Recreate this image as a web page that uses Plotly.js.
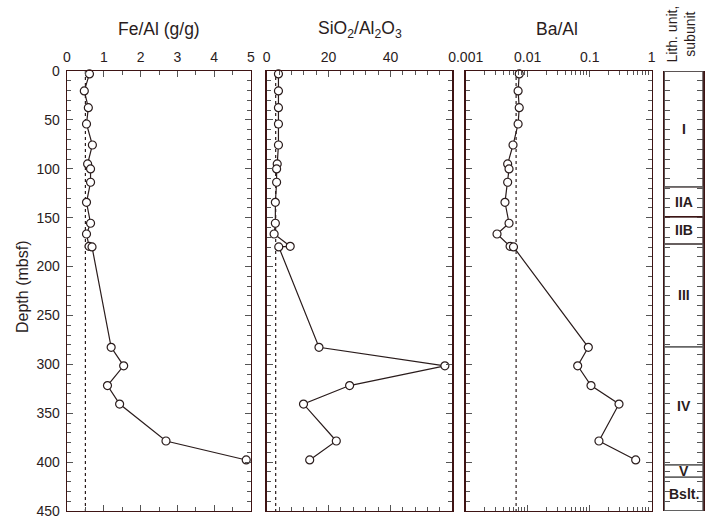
<!DOCTYPE html>
<html>
<head>
<meta charset="utf-8">
<script src="https://cdn.plot.ly/plotly-3.0.1.min.js"></script>
<style>html,body{margin:0;padding:0;background:#fff;}#chart{width:722px;height:530px;}</style>
</head>
<body>
<div id="chart"></div>
<script>
// ---- Data ----
var depth = [3, 20.4, 37.5, 54.2, 75.7, 95, 100.2, 113.8, 134.3, 155.7, 166.7, 179.3, 179.9, 282.6, 301.5, 321.7, 340.6, 378.4, 397.8];
var feAl  = [0.61, 0.47, 0.58, 0.53, 0.69, 0.56, 0.64, 0.64, 0.53, 0.64, 0.53, 0.60, 0.68, 1.2, 1.54, 1.1, 1.43, 2.69, 4.87];
var sio2Al2o3 = [3.8, 3.8, 3.8, 3.8, 3.8, 3.4, 3.2, 3.2, 2.8, 2.8, 2.4, 7.6, 3.9, 16.9, 57.6, 26.8, 11.9, 22.5, 13.9];
var baAl  = [0.0073, 0.0070, 0.0073, 0.0070, 0.0058, 0.00475, 0.0050, 0.00475, 0.0043, 0.0050, 0.0032, 0.0052, 0.0059, 0.095, 0.064, 0.105, 0.297, 0.141, 0.552];

var feRef = 0.5;      // dotted reference (average shale)
var sioRef = 2.9;
var baRef = 0.0065;
var refDepth = [0, 450];

var feTicks = [0, 1, 2, 3, 4, 5];
var sioTicks = [0, 20, 40];
var baTicks = [0.001, 0.01, 0.1, 1];
var baTickText = ['0.001', '0.01', '0.1', '1'];

var lithTops    = [0, 118.3, 149, 177, 282, 402.6, 415.5];
var lithBottoms = [118.3, 149, 177, 282, 402.6, 415.5, 450];
var lithNames   = ['I', 'IIA', 'IIB', 'III', 'IV', 'V', 'Bslt.'];

var panelTitles = ['Fe/Al (g/g)', 'SiO<sub>2</sub>/Al<sub>2</sub>O<sub>3</sub>', 'Ba/Al'];

// ---- Styles ----
var W = 722;
var frame = '#3e1414';
var tickc = '#555555';
var ink = '#2a1c1c';
var fontFam = 'Arial, "Liberation Sans", Helvetica, sans-serif';

function px(a, b) { return [a / W, b / W]; }

function series(x, xa, ya) {
  return {
    x: x, y: depth, xaxis: xa, yaxis: ya, type: 'scatter', mode: 'lines+markers',
    line: {color: ink, width: 1.2},
    marker: {symbol: 'circle', size: 8, color: '#ffffff', line: {color: ink, width: 1.2}},
    hoverinfo: 'skip', showlegend: false, cliponaxis: false
  };
}
function refline(v, xa, ya) {
  return {
    x: [v, v], y: refDepth, xaxis: xa, yaxis: ya, type: 'scatter', mode: 'lines',
    line: {color: ink, width: 1.2, dash: 'dot'}, hoverinfo: 'skip', showlegend: false
  };
}

var data = [
  refline(feRef, 'x', 'y'), series(feAl, 'x', 'y'),
  refline(sioRef, 'x2', 'y2'), series(sio2Al2o3, 'x2', 'y2'),
  refline(baRef, 'x3', 'y3'), series(baAl, 'x3', 'y3'),
  {x: [0.5], y: [0], xaxis: 'x4', yaxis: 'y', type: 'scatter', mode: 'markers',
   marker: {opacity: 0}, hoverinfo: 'skip', showlegend: false}
];

function xax(dom, anchor, extra) {
  var o = {
    domain: dom, side: 'top', anchor: anchor, showline: true, linecolor: frame, linewidth: 1.3,
    mirror: 'allticks', ticks: 'inside', ticklen: 6, tickcolor: tickc, tickwidth: 1,
    showgrid: false, zeroline: false, tickfont: {size: 14, color: ink, family: fontFam},
    ticklabelstandoff: 2, fixedrange: true
  };
  for (var k in extra) o[k] = extra[k];
  return o;
}
function yax(anchor, labels) {
  var o = {
    domain: [0, 1], range: [450, 0], anchor: anchor, showline: true, linecolor: frame, linewidth: 1.3,
    mirror: 'allticks', ticks: 'inside', ticklen: 6, tickcolor: tickc, dtick: 50, tick0: 0,
    minor: {dtick: 10, ticks: 'inside', ticklen: 4, tickcolor: tickc},
    showgrid: false, zeroline: false, tickfont: {size: 14, color: ink, family: fontFam},
    ticklabelstandoff: 3, fixedrange: true, showticklabels: labels
  };
  if (anchor !== 'x') o.matches = 'y';
  return o;
}

var layout = {
  width: 722, height: 530,
  margin: {l: 0, r: 0, t: 71, b: 19},
  paper_bgcolor: '#ffffff', plot_bgcolor: '#ffffff',
  font: {family: fontFam, color: ink},
  xaxis: xax(px(67, 251), 'y', {range: [0, 5], tickvals: feTicks,
    minor: {dtick: 0.5, tick0: 0, ticks: 'inside', ticklen: 4, tickcolor: tickc}}),
  xaxis2: xax(px(266.7, 452.3), 'y2', {range: [0, 60], tickvals: sioTicks,
    minor: {dtick: 4, tick0: 0, ticks: 'inside', ticklen: 4, tickcolor: tickc}}),
  xaxis3: xax(px(465.7, 651.7), 'y3', {type: 'log', range: [-3, 0],
    tickvals: baTicks, ticktext: baTickText,
    minor: {tickvals: [0.002,0.003,0.004,0.005,0.006,0.007,0.008,0.009,0.02,0.03,0.04,0.05,0.06,0.07,0.08,0.09,0.2,0.3,0.4,0.5,0.6,0.7,0.8,0.9],
            ticks: 'inside', ticklen: 4, tickcolor: tickc}}),
  xaxis4: {domain: px(664, 703.3), range: [0, 1], anchor: 'y', showline: false, showticklabels: false,
    ticks: '', showgrid: false, zeroline: false, fixedrange: true},
  yaxis: yax('x', true),
  yaxis2: yax('x2', false),
  yaxis3: yax('x3', false),
  shapes: [],
  annotations: []
};

// panel titles
var centers = [(67 + 251) / 2, (266.7 + 452.3) / 2, (465.7 + 651.7) / 2 - 2];
panelTitles.forEach(function (t, i) {
  layout.annotations.push({
    text: t, xref: 'paper', yref: 'paper', x: centers[i] / W, y: (511 - 29) / 440,
    xanchor: 'center', yanchor: 'middle', showarrow: false,
    font: {size: 17.5, color: ink, family: fontFam}
  });
});
// depth title
layout.annotations.push({
  text: 'Depth (mbsf)', xref: 'paper', yref: 'paper', x: 22 / W, y: (511 - 287) / 440,
  xanchor: 'center', yanchor: 'middle', textangle: -90, showarrow: false,
  font: {size: 16, color: ink, family: fontFam}
});
// lith header
layout.annotations.push({
  text: 'Lith. unit,<br>subunit', xref: 'paper', yref: 'paper', x: 681 / W, y: (511 - 65) / 440,
  xanchor: 'center', yanchor: 'bottom', textangle: -90, showarrow: false,
  font: {size: 14, color: ink, family: fontFam}
});

// lith column
var boundaryColors = [frame, '#666666', frame, '#666666', '#666666', '#666666', '#666666'];
lithNames.forEach(function (n, i) {
  layout.shapes.push({
    type: 'rect', xref: 'x4', yref: 'y', x0: 0, x1: 1, y0: lithTops[i], y1: lithBottoms[i],
    line: {color: boundaryColors[i], width: 1.5}, fillcolor: 'rgba(0,0,0,0)', layer: 'above'
  });
  layout.annotations.push({
    text: '<b>' + n + '</b>', xref: 'x4', yref: 'y', x: 0.5, y: (lithTops[i] + lithBottoms[i]) / 2,
    xanchor: 'center', yanchor: 'middle', showarrow: false,
    font: {size: 14, color: ink, family: fontFam}
  });
});
layout.shapes.push({
  type: 'rect', xref: 'x4', yref: 'y', x0: 0, x1: 1, y0: 0, y1: 450,
  line: {color: '#555555', width: 1.5}, fillcolor: 'rgba(0,0,0,0)', layer: 'above'
});

Plotly.newPlot('chart', data, layout, {staticPlot: true, displayModeBar: false});
</script>
</body>
</html>
